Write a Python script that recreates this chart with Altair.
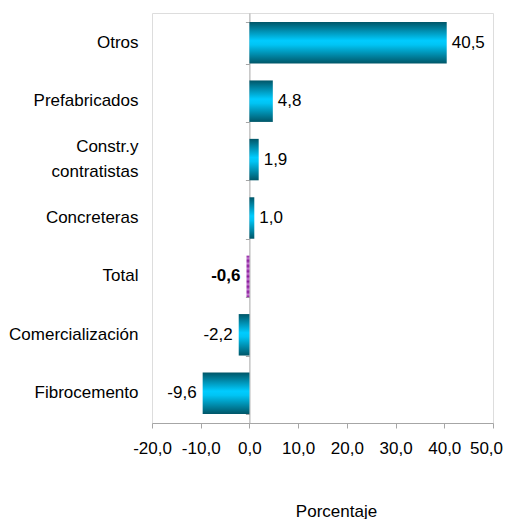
import altair as alt
import pandas as pd

categories = ["Otros", "Prefabricados", "Constr.y contratistas", "Concreteras",
              "Total", "Comercialización", "Fibrocemento"]
values = [40.5, 4.8, 1.9, 1.0, -0.6, -2.2, -9.6]
value_labels = ["40,5", "4,8", "1,9", "1,0", "-0,6", "-2,2", "-9,6"]
x_ticks = [-20, -10, 0, 10, 20, 30, 40, 50]
x_domain = [-20, 50]

df = pd.DataFrame({"cat": categories, "val": values, "lab": value_labels})

FONT = "Liberation Sans"
GRAY = "#a6a6a6"
FS = 17

cyan_grad = {
    "gradient": "linear", "x1": 0, "x2": 0, "y1": 0, "y2": 1,
    "stops": [
        {"offset": 0.0, "color": "#005668"},
        {"offset": 0.45, "color": "#00ccff"},
        {"offset": 0.55, "color": "#00c4f4"},
        {"offset": 1.0, "color": "#005668"},
    ],
}
purple_stops = []
for k in range(17):
    purple_stops.append({"offset": k / 16, "color": "#8a1a9c" if k % 2 == 0 else "#c47ad0"})
purple_grad = {"gradient": "linear", "x1": 0, "x2": 0, "y1": 0, "y2": 1, "stops": purple_stops}

y_scale = alt.Scale(paddingInner=0.29, paddingOuter=0.155)

label_expr = (
    "datum.value == 'Constr.y contratistas' ? ['Constr.y\u00a0\u00a0\u00a0\u00a0', 'contratistas'] : "
    "(datum.value == 'Total' ? 'Total\u00a0' : datum.value)"
)
label_offset = {"condition": {"test": "datum.value == 'Constr.y contratistas'", "value": -12.5},
                "value": 0}
x_label_offset = {"condition": {"test": "datum.value == 50", "value": -7}, "value": 0}

x_enc = alt.X(
    "val:Q",
    scale=alt.Scale(domain=x_domain, nice=False, zero=False),
    axis=alt.Axis(
        values=x_ticks,
        labelExpr="replace(replace(format(datum.value, '.1f'), '.', ','), '\u2212', '-')",
        labelOverlap=False, labelFlush=False, labelOffset=x_label_offset,
        title="Porcentaje",
        titleFontSize=FS, titleFontWeight="normal", titleFont=FONT, titleColor="black",
        titleX=184, titleY=93, titleBaseline="alphabetic", titleAlign="center",
        labelFontSize=FS, labelFont=FONT, labelColor="black", labelPadding=12,
        domainColor=GRAY, tickColor=GRAY, tickSize=5, grid=False,
    ),
)

base = alt.Chart(df)

bars = base.transform_filter("datum.cat != 'Total'").mark_bar(color=cyan_grad).encode(
    x=x_enc,
    y=alt.Y("cat:N", sort=categories, scale=y_scale, title=None,
            axis=alt.Axis(domain=False, ticks=False, tickSize=0, labelPadding=14,
                          labelFontSize=FS, labelFont=FONT, labelColor="black",
                          labelLineHeight=25, labelExpr=label_expr, labelLimit=300,
                          labelOffset=label_offset)),
)

bar_total = base.transform_filter("datum.cat == 'Total'").mark_bar(color=purple_grad).encode(
    x="val:Q",
    y=alt.Y("cat:N", sort=categories, scale=y_scale, axis=None),
)

zero_axis = base.mark_bar(opacity=0).encode(
    x="val:Q",
    y=alt.Y("cat:N", sort=categories, scale=y_scale,
            axis=alt.Axis(orient="left", offset=-97.4, labels=False, title=None,
                          domain=True, domainColor=GRAY, ticks=True, tickColor=GRAY,
                          tickSize=4, tickBand="extent")),
)

txt_pos = base.transform_filter("datum.val > 0").mark_text(
    align="left", baseline="middle", dx=5, fontSize=FS, font=FONT, color="black"
).encode(x="val:Q", y=alt.Y("cat:N", sort=categories, scale=y_scale, axis=None), text="lab:N")

txt_neg = base.transform_filter("datum.val < 0 && datum.cat != 'Total'").mark_text(
    align="right", baseline="middle", dx=-6, fontSize=FS, font=FONT, color="black"
).encode(x="val:Q", y=alt.Y("cat:N", sort=categories, scale=y_scale, axis=None), text="lab:N")

txt_total = base.transform_filter("datum.cat == 'Total'").mark_text(
    align="right", baseline="middle", dx=-6, fontSize=FS, font=FONT, fontWeight="bold", color="black"
).encode(x="val:Q", y=alt.Y("cat:N", sort=categories, scale=y_scale, axis=None), text="lab:N")

chart = alt.layer(bars, bar_total, zero_axis, txt_pos, txt_neg, txt_total).resolve_axis(
    y="independent"
).properties(
    width=341, height=410,
    autosize=alt.AutoSizeParams(type="none"),
    padding={"left": 144, "top": 5, "right": 11, "bottom": 96},
).configure_view(stroke=GRAY, strokeWidth=1).configure(font=FONT)

chart.save("out.html", embed_options={"renderer": "svg", "actions": False})
